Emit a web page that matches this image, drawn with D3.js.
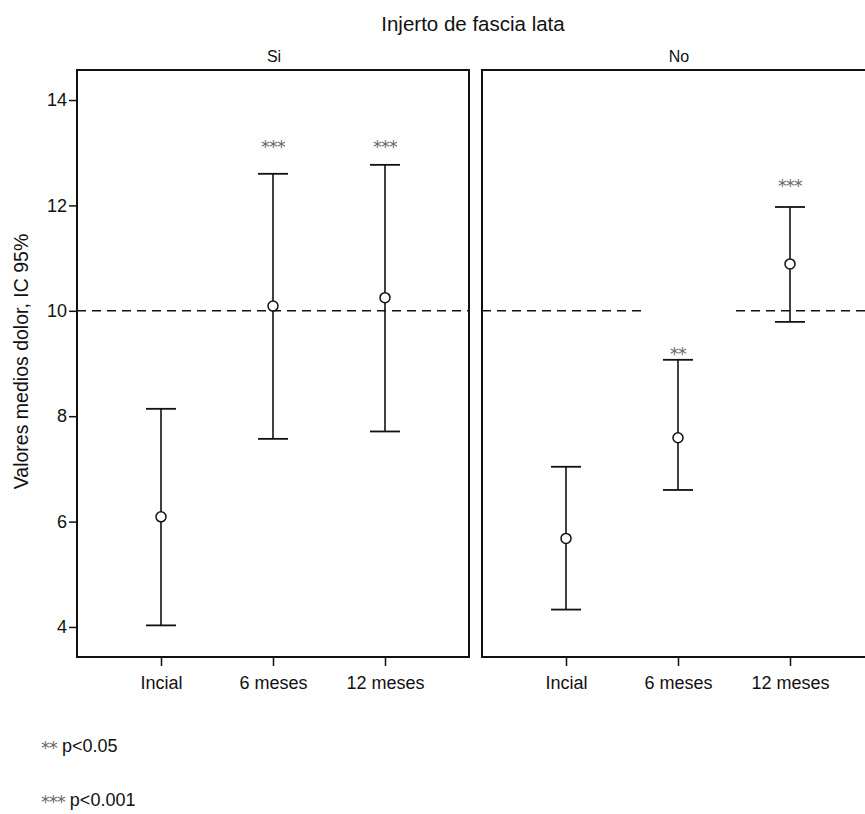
<!DOCTYPE html>
<html><head><meta charset="utf-8">
<script src="https://cdn.jsdelivr.net/npm/d3@7/dist/d3.min.js"></script>
<style>body{margin:0;background:#fff}svg{display:block}text{font-family:"Liberation Sans",Arial,sans-serif;fill:#111}</style>
</head><body><svg id="c" width="865" height="814"></svg>
<script>
const title = "Injerto de fascia lata";
const panels = ["Si", "No"];
const categories = ["Incial", "6 meses", "12 meses"];
const yTicks = [4, 6, 8, 10, 12, 14];
const refValue = 10;
// means and 95% CI per panel
const meansSi = [6.09, 10.09, 10.25];
const lowerSi = [4.03, 7.57, 7.71];
const upperSi = [8.14, 12.60, 12.77];
const meansNo = [5.68, 7.59, 10.89];
const lowerNo = [4.33, 6.60, 9.79];
const upperNo = [7.04, 9.07, 11.97];
// significance marks and their vertical value
const sigSi = ["", "***", "***"];
const sigYSi = [null, 13.18, 13.18];
const sigNo = ["", "**", "***"];
const sigYNo = [null, 9.26, 12.45];
const footnoteStars = ["**", "***"];
const footnoteTexts = ["p<0.05", "p<0.001"];

const svg = d3.select("#c");
const plotTop = 70, plotBottom = 657, pw = 392;
const panelX = [77, 482];
const y = d3.scaleLinear().domain([3.43, 14.57]).range([plotBottom, plotTop]);
const starFont = "'DejaVu Sans',sans-serif";
const starSize = 17.5;

svg.append("text").attr("x", 473).attr("y", 31).attr("text-anchor", "middle")
  .attr("font-size", 20.5).text(title);

svg.append("text").attr("transform", `translate(28,${(plotTop+plotBottom)/2 - 2}) rotate(-90)`)
  .attr("text-anchor", "middle").attr("font-size", 19.5).text("Valores medios dolor, IC 95%");

const data = [
  {m: meansSi, lo: lowerSi, hi: upperSi, sig: sigSi, sy: sigYSi},
  {m: meansNo, lo: lowerNo, hi: upperNo, sig: sigNo, sy: sigYNo}
];

panels.forEach((p, i) => {
  const x0 = panelX[i];
  const x = d3.scalePoint().domain(categories).range([x0, x0 + pw]).padding(0.75);
  const g = svg.append("g");
  g.append("text").attr("x", x0 + pw/2 + 1).attr("y", 62).attr("text-anchor", "middle")
    .attr("font-size", 16).text(p);

  const segs = i === 0 ? [[0, 1]] : [[0, 0.408], [0.648, 1]];
  segs.forEach(s => {
    g.append("line").attr("x1", x0 + s[0]*pw).attr("x2", x0 + s[1]*pw)
      .attr("y1", y(refValue)).attr("y2", y(refValue))
      .attr("stroke", "#111").attr("stroke-width", 1.5).attr("stroke-dasharray", "9,6");
  });

  const xa = g.append("g").attr("transform", `translate(0,${plotBottom})`)
    .call(d3.axisBottom(x).tickSize(9).tickSizeOuter(0));
  xa.select(".domain").remove();
  xa.selectAll("line").attr("stroke", "#111").attr("stroke-width", 1.5);
  xa.selectAll("text").attr("font-size", 18).attr("dy", "1.12em").attr("fill", "#111");

  if (i === 0) {
    const ya = g.append("g").attr("transform", `translate(${x0},0)`)
      .call(d3.axisLeft(y).tickValues(yTicks).tickSize(8).tickPadding(2));
    ya.select(".domain").remove();
    ya.selectAll("line").attr("stroke", "#111").attr("stroke-width", 1.5);
    ya.selectAll("text").attr("font-size", 18).attr("fill", "#111");
  }

  const d = data[i];
  categories.forEach((c, j) => {
    const cx = x(c);
    g.append("line").attr("x1", cx).attr("x2", cx).attr("y1", y(d.lo[j])).attr("y2", y(d.hi[j]))
      .attr("stroke", "#111").attr("stroke-width", 1.6);
    [d.lo[j], d.hi[j]].forEach(v => {
      g.append("line").attr("x1", cx - 15).attr("x2", cx + 15).attr("y1", y(v)).attr("y2", y(v))
        .attr("stroke", "#111").attr("stroke-width", 1.8);
    });
    g.append("circle").attr("cx", cx).attr("cy", y(d.m[j])).attr("r", 5)
      .attr("fill", "#fff").attr("stroke", "#111").attr("stroke-width", 1.5);
    if (d.sig[j]) {
      g.append("text").attr("x", cx).attr("y", y(d.sy[j]) + 10).attr("text-anchor", "middle")
        .attr("font-size", starSize).attr("letter-spacing", -0.8)
        .style("font-family", starFont).style("fill", "#666").text(d.sig[j]);
    }
  });

  g.append("rect").attr("x", x0).attr("y", plotTop).attr("width", pw).attr("height", plotBottom - plotTop)
    .attr("fill", "none").attr("stroke", "#111").attr("stroke-width", 2);
});

footnoteTexts.forEach((txt, k) => {
  const by = 752 + k*54;
  const st = svg.append("text").attr("x", 41).attr("y", by + 2).attr("font-size", starSize)
    .attr("letter-spacing", -0.8)
    .style("font-family", starFont).style("fill", "#666").text(footnoteStars[k]);
  const w = st.node().getComputedTextLength();
  svg.append("text").attr("x", 41 + w + 5).attr("y", by).attr("font-size", 18).text(txt);
});
</script></body></html>
